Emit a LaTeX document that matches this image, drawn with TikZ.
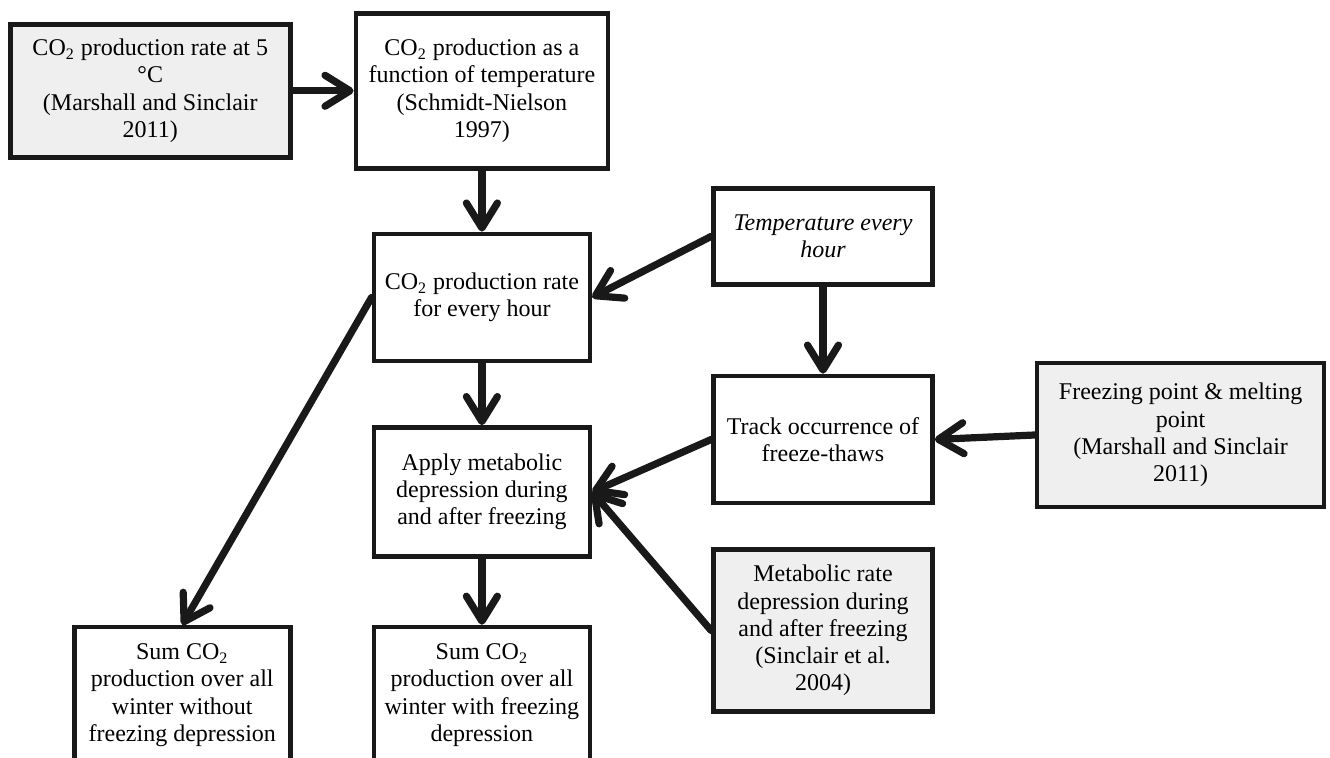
\documentclass[tikz,border=0pt]{standalone}
\usepackage{fontspec}
\setmainfont{Liberation Serif}
\usetikzlibrary{arrows.meta, positioning}
\definecolor{srcgray}{RGB}{239,239,239}

\begin{document}
\begin{tikzpicture}[
    node distance=31pt,
    box/.style={rectangle, draw=black!90, line width=2.3pt, align=center, inner sep=2pt, font=\fontsize{12}{13.6}\selectfont},
    src/.style={box, fill=srcgray},
    flow/.style={-{Straight Barb[length=12.5pt, width=15.5pt, round]}, draw=black!90, line width=3.6pt, line cap=round}
]
    \node[src, minimum width=140pt, minimum height=66.5pt] (rate5) {CO\textsubscript{2} production rate at 5\\°C\\(Marshall and Sinclair\\2011)};
    \node[box, minimum width=126pt, minimum height=77.5pt, right=30.5pt of rate5] (tempfn) {CO\textsubscript{2} production as a\\function of temperature\\(Schmidt-Nielson\\1997)};
    \node[box, minimum width=108pt, minimum height=63.5pt, below=30.5pt of tempfn] (hourly) {CO\textsubscript{2} production rate\\for every hour};
    \node[box, minimum width=108pt, minimum height=64.5pt, below=31pt of hourly] (apply) {Apply metabolic\\depression during\\and after freezing};
    \node[box, minimum width=108pt, minimum height=68pt, below=33pt of apply] (sumfrz) {Sum CO\textsubscript{2}\\production over all\\winter with freezing\\depression};
    \node[box, minimum width=108pt, minimum height=68pt, left=39.5pt of sumfrz] (sumnofrz) {Sum CO\textsubscript{2}\\production over all\\winter without\\freezing depression};
    \node[box, font=\fontsize{12}{13.6}\selectfont\itshape, minimum width=109.5pt, minimum height=48pt, right=59.5pt of hourly, yshift=30.5pt] (temphour) {Temperature every\\hour};
    \node[box, minimum width=109.5pt, minimum height=63.5pt, below=43.5pt of temphour] (track) {Track occurrence of\\freeze-thaws};
    \node[src, minimum width=109.5pt, minimum height=81pt, below=21pt of track] (metdep) {Metabolic rate\\depression during\\and after freezing\\(Sinclair et al.\\2004)};
    \node[src, minimum width=143.5pt, minimum height=72pt, right=50pt of track, yshift=2.25pt] (freezept) {Freezing point \& melting\\point\\(Marshall and Sinclair\\2011)};

    \draw[flow] (rate5.east) -- (tempfn.west);
    \draw[flow] (tempfn) -- (hourly);
    \draw[flow] (temphour.west) -- (hourly.east);
    \draw[flow] (temphour) -- (track);
    \draw[flow] (hourly) -- (apply);
    \draw[flow] (hourly.west) -- (sumnofrz.north);
    \draw[flow] (freezept.west) -- (track.east);
    \draw[flow] (track.west) -- (apply.east);
    \draw[flow] (metdep.west) -- (apply.east);
    \draw[flow] (apply) -- (sumfrz);

    % page = reference frame, bottom boxes run off the edge
    \pgfresetboundingbox
    \useasboundingbox ([xshift=-4pt, yshift=11pt]rate5.north west) rectangle ++(665pt,-379pt);
\end{tikzpicture}
\end{document}
